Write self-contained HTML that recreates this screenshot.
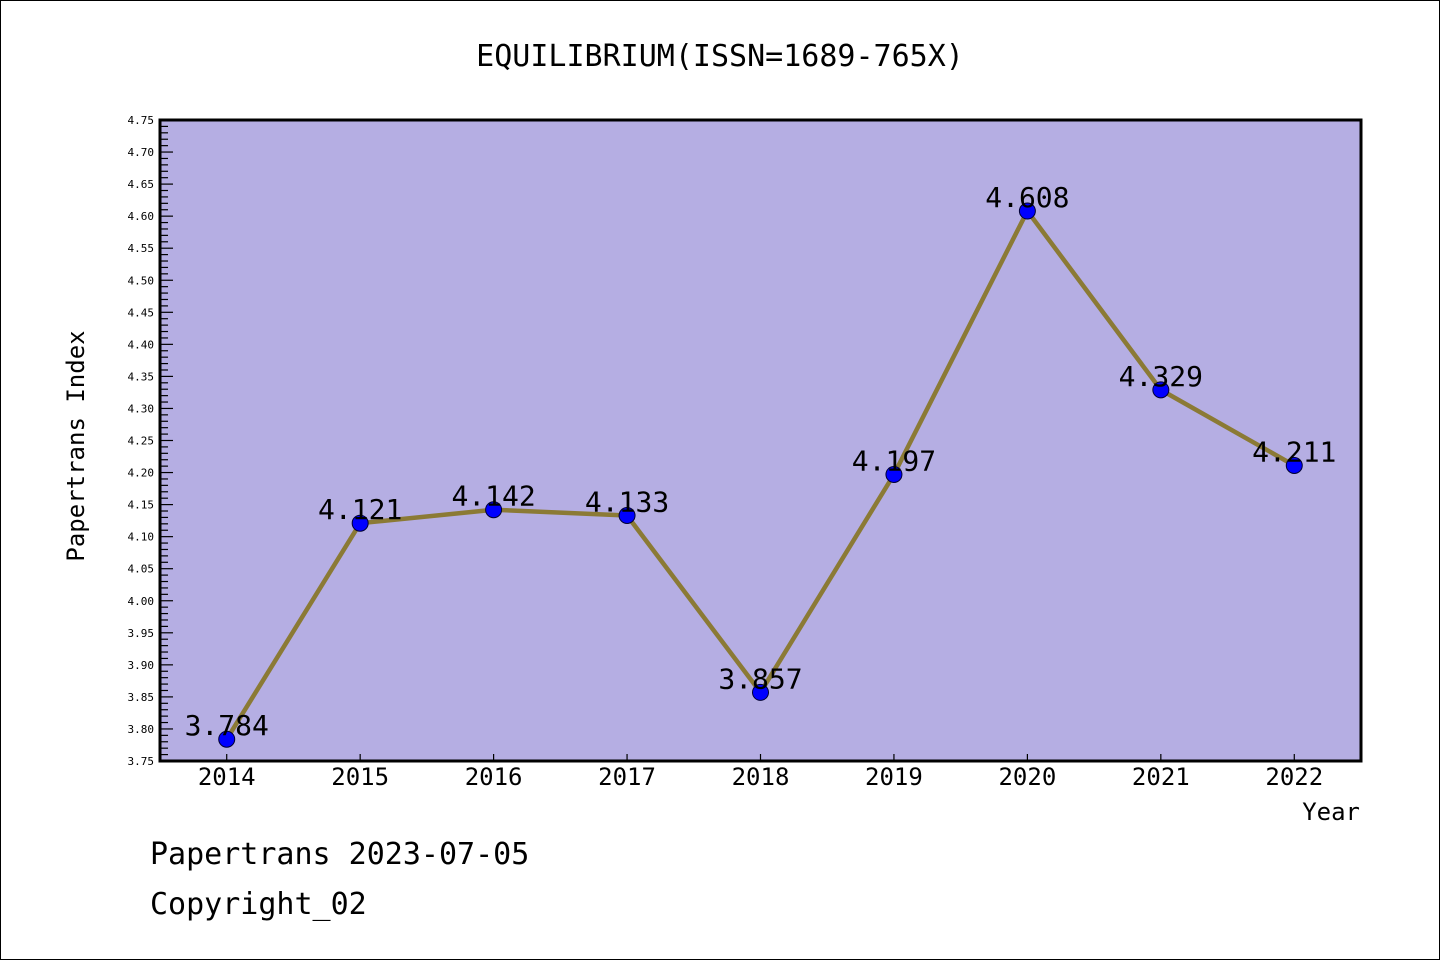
<!DOCTYPE html>
<html><head><meta charset="utf-8"><style>
html,body{margin:0;padding:0;background:#fff;}
svg{display:block;}
text{font-family:"DejaVu Sans Mono","Liberation Mono",monospace;}
</style></head><body>
<svg id="chart" width="1440" height="960" viewBox="0 0 1440 960" xmlns="http://www.w3.org/2000/svg">
<rect x="0.5" y="0.5" width="1439" height="959" fill="#fff" stroke="#000" stroke-width="1"/>
<text x="720" y="66" font-size="30" text-anchor="middle">EQUILIBRIUM(ISSN=1689-765X)</text>
<rect x="160" y="120" width="1201" height="641" fill="#b5aee3"/>
<g id="ticks"></g>
<g id="series"></g>
<rect x="160" y="120" width="1201" height="641" fill="none" stroke="#000" stroke-width="3"/>
<text transform="translate(84,446) rotate(-90)" font-size="24" text-anchor="middle">Papertrans Index</text>
<text x="1360" y="820" font-size="24" text-anchor="end">Year</text>
<text x="150" y="864" font-size="30">Papertrans 2023-07-05</text>
<text x="150" y="914" font-size="30">Copyright_02</text>
</svg>
<script>
const years = ['2014','2015','2016','2017','2018','2019','2020','2021','2022'];
const values = [3.784, 4.121, 4.142, 4.133, 3.857, 4.197, 4.608, 4.329, 4.211];
const valueLabels = ['3.784','4.121','4.142','4.133','3.857','4.197','4.608','4.329','4.211'];
const yMin = 3.75, yMax = 4.75;

const NS = 'http://www.w3.org/2000/svg';
const L = 160, R = 1361, T = 120, B = 761;
const xs = i => L + (i + 0.5) * (R - L) / years.length;
const ys = v => B - (v - yMin) / (yMax - yMin) * (B - T);
function mk(tag, attrs, parent){const e=document.createElementNS(NS,tag);for(const k in attrs)e.setAttribute(k,attrs[k]);parent.appendChild(e);return e;}
const tg = document.getElementById('ticks');
const sg = document.getElementById('series');

const nSteps = Math.round((yMax - yMin) / 0.01);
for (let k = 0; k <= nSteps; k++) {
  const v = yMin + k * 0.01;
  const y = ys(v);
  const major = k % 5 === 0;
  const t = mk('line', {x1: L, x2: L + (major ? 13 : 8), y1: y, y2: y, stroke: '#000', 'stroke-width': 1.2}, tg);
  
  
  if (major) {
    const lb = mk('text', {x: L - 6, y: y + 4, 'font-size': 11, 'text-anchor': 'end'}, tg);
    lb.textContent = v.toFixed(2);
    
    
  }
}
years.forEach((yr, i) => {
  const x = xs(i);
  const t = mk('line', {x1: x, x2: x, y1: B, y2: B - 7, stroke: '#000', 'stroke-width': 1.2}, tg);
  
  
  const lb = mk('text', {x: x, y: 785, 'font-size': 24, 'text-anchor': 'middle'}, tg);
  lb.textContent = yr;
  
  
});
const pts = values.map((v, i) => xs(i) + ',' + ys(v)).join(' ');
const line = mk('polyline', {points: pts, fill: 'none', stroke: '#8b7a35', 'stroke-width': 4.5, 'stroke-linejoin': 'round'}, sg);


values.forEach((v, i) => {
  const c = mk('circle', {cx: xs(i), cy: ys(v), r: 8, fill: '#0000ff', stroke: '#000033', 'stroke-width': 1}, sg);
  
  
  const lb = mk('text', {x: xs(i), y: ys(v) - 4, 'font-size': 28, 'text-anchor': 'middle'}, sg);
  lb.textContent = valueLabels[i];
  
  
});
</script>
</body></html>
